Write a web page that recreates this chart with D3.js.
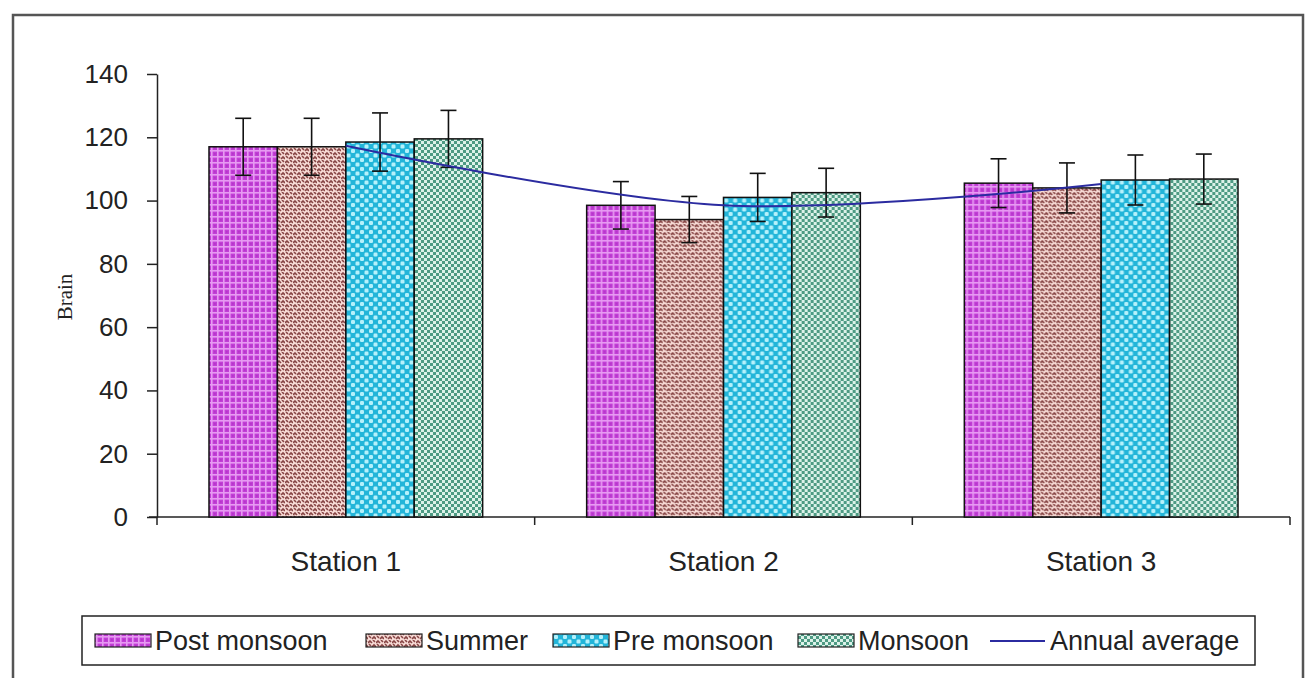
<!DOCTYPE html>
<html>
<head>
<meta charset="UTF-8">
<title>Brain</title>
<script src="https://d3js.org/d3.v7.min.js"></script>
<style>
  body { margin: 0; background: #fff; }
  svg text { font-family: "Liberation Sans", Arial, sans-serif; fill: #222; }
</style>
</head>
<body>
<svg id="chart" width="1305" height="678"></svg>
<script>
// data
const stations = ["Station 1", "Station 2", "Station 3"];
const seasons = ["Post monsoon", "Summer", "Pre monsoon", "Monsoon"];
const postMonsoon = [117, 98.5, 105.5];
const summer = [117, 94, 104];
const preMonsoon = [118.5, 101, 106.5];
const monsoon = [119.5, 102.5, 106.8];
const postMonsoonErr = [9, 7.5, 7.7];
const summerErr = [9, 7.3, 7.9];
const preMonsoonErr = [9.2, 7.6, 7.9];
const monsoonErr = [9, 7.7, 7.9];
const annualAverage = [117.3, 98.5, 105.2];
const yTicks = [0, 20, 40, 60, 80, 100, 120, 140];

const seriesValues = [postMonsoon, summer, preMonsoon, monsoon];
const seriesErrors = [postMonsoonErr, summerErr, preMonsoonErr, monsoonErr];

const svg = d3.select("#chart");
const defs = svg.append("defs");

// patterns for the four seasons
function makePattern(id, size, build) {
  const p = defs.append("pattern").attr("id", id)
    .attr("patternUnits", "userSpaceOnUse")
    .attr("width", size).attr("height", size);
  build(p);
}
makePattern("pat0", 6, p => {
  p.append("rect").attr("width", 6).attr("height", 6).attr("fill", "#c23ed6");
  p.append("rect").attr("width", 6).attr("height", 1.6).attr("fill", "#e79af2");
  p.append("rect").attr("width", 1.6).attr("height", 6).attr("fill", "#e79af2");
  p.append("rect").attr("x", 3.3).attr("y", 3.3).attr("width", 1.2).attr("height", 1.2).attr("fill", "#a52fbb");
});
makePattern("pat1", 8, p => {
  p.append("rect").attr("width", 8).attr("height", 8).attr("fill", "#f7dad5");
  p.append("path").attr("d", "M0,3 L2,1 L4,3 M4,7 L6,5 L8,7 M5,0 L7,2 M1,4 L3,6")
    .attr("fill", "none").attr("stroke", "#874545").attr("stroke-width", 1.6);
});
makePattern("pat2", 9, p => {
  p.append("rect").attr("width", 9).attr("height", 9).attr("fill", "#22b5d9");
  p.append("rect").attr("x", 0.5).attr("y", 0.5).attr("width", 4).attr("height", 4).attr("rx", 1.2).attr("fill", "#b5f1fb");
  p.append("rect").attr("x", 5).attr("y", 5).attr("width", 4).attr("height", 4).attr("rx", 1.2).attr("fill", "#b5f1fb");
});
makePattern("pat3", 6, p => {
  p.append("rect").attr("width", 6).attr("height", 6).attr("fill", "#dcf2e9");
  p.append("rect").attr("width", 3).attr("height", 3).attr("fill", "#4d9a83");
  p.append("rect").attr("x", 3).attr("y", 3).attr("width", 3).attr("height", 3).attr("fill", "#4d9a83");
});

// outer frame
svg.append("path").attr("d", "M13,680 L13,15 L1303,15 L1303,680")
  .attr("fill", "none").attr("stroke", "#555").attr("stroke-width", 2.5);

const plotLeft = 157, plotRight = 1290, plotTop = 74, plotBottom = 517;

const x0 = d3.scaleBand().domain(stations).range([plotLeft, plotRight]).paddingInner(0).paddingOuter(0);
const x1 = d3.scaleBand().domain(seasons).range([0, x0.bandwidth()]).paddingInner(0).paddingOuter(0.76);
const y = d3.scaleLinear().domain([0, 140]).range([plotBottom, plotTop]);

// y axis
const yAxis = svg.append("g").attr("transform", `translate(${plotLeft},0)`)
  .call(d3.axisLeft(y).tickValues(yTicks).tickSize(10).tickPadding(19).tickSizeOuter(0));
yAxis.select(".domain").attr("stroke", "#222").attr("stroke-width", 1.5);
yAxis.selectAll(".tick line").attr("stroke", "#222").attr("stroke-width", 1.5);
yAxis.selectAll(".tick text").attr("font-size", 26).attr("fill", "#222")
  .attr("font-family", "'Liberation Sans', Arial, sans-serif");

// x axis: ticks at the category boundaries
const xAxis = svg.append("g").attr("transform", `translate(0,${plotBottom})`);
xAxis.append("line").attr("x1", plotLeft - 8).attr("x2", plotRight).attr("y1", 0).attr("y2", 0)
  .attr("stroke", "#222").attr("stroke-width", 1.5);
const boundaries = stations.map(s => x0(s)).concat([x0(stations[stations.length - 1]) + x0.bandwidth()]);
xAxis.selectAll(".btick").data(boundaries).enter().append("line")
  .attr("x1", d => d).attr("x2", d => d).attr("y1", 0).attr("y2", 8)
  .attr("stroke", "#222").attr("stroke-width", 1.5);
xAxis.selectAll(".clabel").data(stations).enter().append("text")
  .attr("x", d => x0(d) + x0.bandwidth() / 2).attr("y", 54)
  .attr("text-anchor", "middle").attr("font-size", 28).text(d => d);

// y label
svg.append("text").attr("transform", "translate(72,297) rotate(-90)")
  .attr("text-anchor", "middle").attr("font-size", 21)
  .style("font-family", "'Liberation Serif', 'Times New Roman', serif").text("Brain");

// bars
const groups = svg.append("g").selectAll("g").data(stations).enter().append("g")
  .attr("transform", d => `translate(${x0(d)},0)`);
groups.selectAll("rect").data((s, i) => seasons.map((k, j) => ({ k, j, v: seriesValues[j][i] })))
  .enter().append("rect")
  .attr("x", d => x1(d.k)).attr("width", x1.bandwidth())
  .attr("y", d => y(d.v)).attr("height", d => y(0) - y(d.v))
  .attr("fill", d => `url(#pat${d.j})`)
  .attr("stroke", "#111").attr("stroke-width", 1.5);

// annual average line
const line = d3.line()
  .x((d, i) => x0(stations[i]) + x0.bandwidth() / 2)
  .y(d => y(d))
  .curve(d3.curveCardinal.tension(0));
svg.append("path").datum(annualAverage).attr("d", line)
  .attr("fill", "none").attr("stroke", "#2b2ba0").attr("stroke-width", 2);

// error bars
const errs = groups.selectAll(".err").data((s, i) => seasons.map((k, j) => ({ k, v: seriesValues[j][i], e: seriesErrors[j][i] })))
  .enter().append("g");
errs.append("line")
  .attr("x1", d => x1(d.k) + x1.bandwidth() / 2).attr("x2", d => x1(d.k) + x1.bandwidth() / 2)
  .attr("y1", d => y(d.v + d.e)).attr("y2", d => y(d.v - d.e));
errs.append("line")
  .attr("x1", d => x1(d.k) + x1.bandwidth() / 2 - 8).attr("x2", d => x1(d.k) + x1.bandwidth() / 2 + 8)
  .attr("y1", d => y(d.v + d.e)).attr("y2", d => y(d.v + d.e));
errs.append("line")
  .attr("x1", d => x1(d.k) + x1.bandwidth() / 2 - 8).attr("x2", d => x1(d.k) + x1.bandwidth() / 2 + 8)
  .attr("y1", d => y(d.v - d.e)).attr("y2", d => y(d.v - d.e));
errs.selectAll("line").attr("stroke", "#111").attr("stroke-width", 1.6);

// legend
const legend = svg.append("g");
legend.append("rect").attr("x", 82).attr("y", 616).attr("width", 1173).attr("height", 49)
  .attr("fill", "#fff").attr("stroke", "#222").attr("stroke-width", 1.5);
const legendX = [95, 366, 553, 798];
seasons.forEach((s, j) => {
  legend.append("rect").attr("x", legendX[j]).attr("y", 634).attr("width", 56).attr("height", 13)
    .attr("fill", `url(#pat${j})`).attr("stroke", "#222").attr("stroke-width", 1.2);
  legend.append("text").attr("x", legendX[j] + 60).attr("y", 650).attr("font-size", 27).text(s);
});
legend.append("line").attr("x1", 990).attr("x2", 1045).attr("y1", 641).attr("y2", 641)
  .attr("stroke", "#2b2ba0").attr("stroke-width", 2);
legend.append("text").attr("x", 1050).attr("y", 650).attr("font-size", 27).text("Annual average");
</script>
</body>
</html>
